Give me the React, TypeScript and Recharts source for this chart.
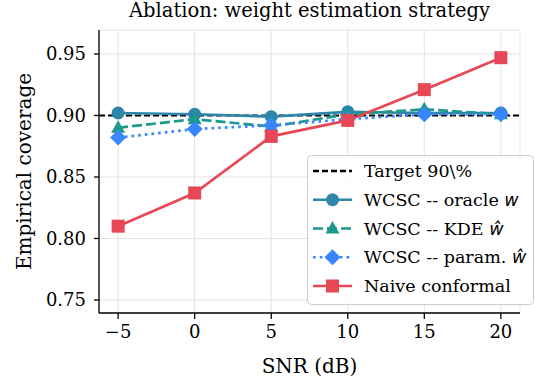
import React from 'react';
import { LineChart, Line, XAxis, YAxis, CartesianGrid, ReferenceLine } from 'recharts';

const snr = [-5, 0, 5, 10, 15, 20];
const oracle = [0.902, 0.901, 0.899, 0.903, 0.902, 0.902];
const kde = [0.890, 0.897, 0.891, 0.901, 0.905, 0.901];
const param = [0.882, 0.889, 0.892, 0.897, 0.901, 0.901];
const naive = [0.810, 0.837, 0.883, 0.896, 0.921, 0.947];
const xTicks = [-5, 0, 5, 10, 15, 20];
const yTicks = [0.75, 0.8, 0.85, 0.9, 0.95];
const target = 0.9;

const data = snr.map((s, i) => ({ snr: s, oracle: oracle[i], kde: kde[i], param: param[i], naive: naive[i] }));

const FONT = '"DejaVu Serif", serif';
const C_ORACLE = '#2E86AB';
const C_KDE = '#1B998B';
const C_PARAM = '#3A86FF';
const C_NAIVE = '#E84855';

type Shape = 'circle' | 'triangle' | 'diamond' | 'square';

function Marker({ cx, cy, shape, color }: { cx: number; cy: number; shape: Shape; color: string }) {
  if (shape === 'circle') return <circle cx={cx} cy={cy} r={6.5} fill={color} />;
  if (shape === 'square') return <rect x={cx - 6.5} y={cy - 6.5} width={13} height={13} fill={color} />;
  if (shape === 'triangle')
    return <polygon points={`${cx},${cy - 7.5} ${cx + 7},${cy + 5} ${cx - 7},${cy + 5}`} fill={color} />;
  return <polygon points={`${cx},${cy - 8} ${cx + 8},${cy} ${cx},${cy + 8} ${cx - 8},${cy}`} fill={color} />;
}

const dotFor = (shape: Shape, color: string) => (p: any) => (
  <Marker key={`${shape}-${p.index}`} cx={p.cx} cy={p.cy} shape={shape} color={color} />
);

const legendItems: { label: React.ReactNode; color: string; dash?: string; shape?: Shape }[] = [
  { label: 'Target 90\\%', color: '#000', dash: '6 3' },
  { label: <>WCSC -- oracle <tspan fontFamily="DejaVu Sans" fontStyle="italic">w</tspan></>, color: C_ORACLE, shape: 'circle' },
  { label: <>WCSC -- KDE <tspan fontFamily="DejaVu Sans" fontStyle="italic">ŵ</tspan></>, color: C_KDE, dash: '10 4', shape: 'triangle' },
  { label: <>WCSC -- param. <tspan fontFamily="DejaVu Sans" fontStyle="italic">ŵ</tspan></>, color: C_PARAM, dash: '2.7 4', shape: 'diamond' },
  { label: 'Naive conformal', color: C_NAIVE, shape: 'square' },
];

function LegendBox() {
  return (
    <svg width={228} height={151} style={{ display: 'block' }}>
      <rect x={0.5} y={0.5} width={226} height={149} rx={4} fill="rgba(255,255,255,0.85)" stroke="#cccccc" strokeWidth={1} />
      {legendItems.map((it, i) => {
        const y = 16 + i * 28.75;
        return (
          <g key={i}>
            <line x1={6} x2={45} y1={y} y2={y} stroke={it.color} strokeWidth={2.7} strokeDasharray={it.dash} />
            {it.shape && <Marker cx={25.5} cy={y} shape={it.shape} color={it.color} />}
            <text x={57} y={y + 6} fontFamily={FONT} fontSize={17.5} fill="#000">{it.label}</text>
          </g>
        );
      })}
    </svg>
  );
}

export default function App() {
  return (
    <div style={{ position: 'absolute', left: 0, top: 0, width: 545, height: 383, background: '#fff' }}>
      <div style={{ position: 'absolute', left: 99, width: 421, top: 0, textAlign: 'center', fontFamily: FONT, fontSize: 19.5, lineHeight: '21px' }}>
        Ablation: weight estimation strategy
      </div>
      <LineChart width={545} height={383} data={data} margin={{ top: 30, right: 25, bottom: 0, left: 0 }}>
        <CartesianGrid stroke="#e3e3e3" strokeWidth={1} />
        <XAxis
          dataKey="snr"
          type="number"
          domain={[-6.25, 21.25]}
          ticks={xTicks}
          tickFormatter={(v: number) => (v < 0 ? `\u2212${Math.abs(v)}` : `${v}`)}
          axisLine={{ stroke: '#000', strokeWidth: 1.3 }}
          tickLine={{ stroke: '#000', strokeWidth: 1.3 }}
          tickSize={6}
          tickMargin={6}
          tick={{ fill: '#000', fontFamily: FONT, fontSize: 18 }}
          height={70}
          label={{ value: 'SNR (dB)', position: 'insideBottom', offset: 10, fill: '#000', fontFamily: FONT, fontSize: 20 }}
        />
        <YAxis
          type="number"
          domain={[0.7394, 0.9695]}
          ticks={yTicks}
          tickFormatter={(v: number) => v.toFixed(2)}
          axisLine={{ stroke: '#000', strokeWidth: 1.3 }}
          tickLine={{ stroke: '#000', strokeWidth: 1.3 }}
          tickSize={5}
          tickMargin={8}
          tick={{ fill: '#000', fontFamily: FONT, fontSize: 18 }}
          width={99}
          label={{ value: 'Empirical coverage', angle: -90, position: 'insideLeft', offset: 24, fill: '#000', fontFamily: FONT, fontSize: 20, style: { textAnchor: 'middle' } }}
        />
        <ReferenceLine y={target} stroke="#000" strokeWidth={1.8} strokeDasharray="6 3" />
        <Line dataKey="oracle" stroke={C_ORACLE} strokeWidth={2.7} dot={dotFor('circle', C_ORACLE)} isAnimationActive={false} />
        <Line dataKey="kde" stroke={C_KDE} strokeWidth={2.7} strokeDasharray="10 4" dot={dotFor('triangle', C_KDE)} isAnimationActive={false} />
        <Line dataKey="param" stroke={C_PARAM} strokeWidth={2.7} strokeDasharray="2.7 4" dot={dotFor('diamond', C_PARAM)} isAnimationActive={false} />
        <Line dataKey="naive" stroke={C_NAIVE} strokeWidth={2.7} dot={dotFor('square', C_NAIVE)} isAnimationActive={false} />
      </LineChart>
      <div style={{ position: 'absolute', left: 307, top: 155 }}>
        <LegendBox />
      </div>
    </div>
  );
}
